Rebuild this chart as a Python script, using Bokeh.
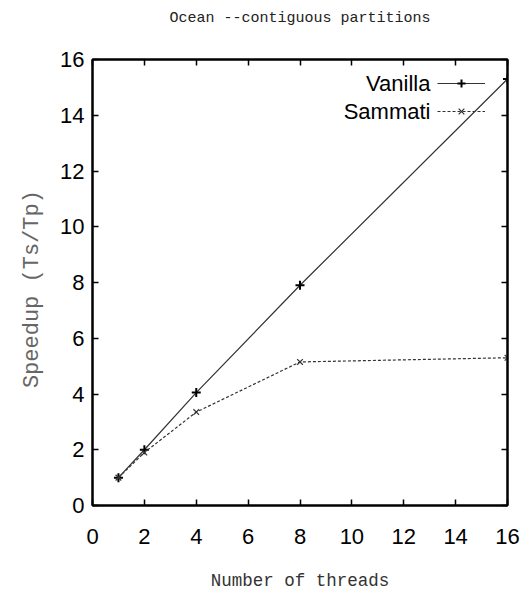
from bokeh.plotting import figure
from bokeh.models import Legend, LegendItem, LinearAxis, FixedTicker, Label, Range1d
from bokeh.embed import file_html
from bokeh.resources import INLINE

threads = [1, 2, 4, 8, 16]
vanilla = [1.0, 2.0, 4.05, 7.9, 15.3]
sammati = [1.0, 1.9, 3.35, 5.15, 5.3]
ticks = [0, 2, 4, 6, 8, 10, 12, 14, 16]
title_text = "Ocean --contiguous partitions"

MONO = "Liberation Mono"
SANS = "Liberation Sans"

p = figure(width=529, height=593, output_backend="svg", toolbar_location=None,
           x_range=Range1d(0, 16), y_range=Range1d(0, 16),
           min_border_left=92, min_border_right=22, min_border_top=59, min_border_bottom=88)

p.grid.visible = False
p.outline_line_color = "black"
p.outline_line_width = 2
p.background_fill_color = "white"
p.border_fill_color = "white"

def style_axis(ax, labels=True):
    ax.ticker = FixedTicker(ticks=ticks)
    ax.minor_tick_line_color = None
    ax.major_tick_in = 6
    ax.major_tick_out = 0
    ax.major_tick_line_width = 1.5
    ax.major_tick_line_color = "black"
    ax.axis_line_color = "black"
    ax.axis_line_width = 2
    if labels:
        ax.major_label_text_font = SANS
        ax.major_label_text_font_size = "22px"
        ax.major_label_text_color = "black"
    else:
        ax.major_label_text_font_size = "0px"
        ax.major_label_text_alpha = 0
        ax.major_label_standoff = 0

for ax in p.xaxis + p.yaxis:
    style_axis(ax)

p.xaxis.major_label_standoff = 23
p.yaxis.major_label_standoff = 8
p.xaxis.axis_label = "Number of threads"
p.yaxis.axis_label = "Speedup  (Ts/Tp)"
for ax in p.xaxis + p.yaxis:
    ax.axis_label_text_font = MONO
    ax.axis_label_text_font_size = "17.5px"
    ax.axis_label_text_font_style = "normal"
    ax.axis_label_text_color = "#333333"
p.yaxis.axis_label_text_font_size = "22px"
p.yaxis.axis_label_text_color = "#666666"
p.xaxis.axis_label_standoff = 24
p.yaxis.axis_label_standoff = 12

# top axis carries the chart title (centered above the frame)
top_ax = LinearAxis(axis_label=title_text)
right_ax = LinearAxis()
style_axis(top_ax, labels=False)
style_axis(right_ax, labels=False)
top_ax.axis_label_text_font = MONO
top_ax.axis_label_text_font_size = "15px"
top_ax.axis_label_text_font_style = "normal"
top_ax.axis_label_text_color = "#222222"
top_ax.axis_label_standoff = 33
p.add_layout(top_ax, "above")
p.add_layout(right_ax, "right")

lv = p.line(threads, vanilla, line_color="#333333", line_width=1.2)
mv = p.scatter(threads, vanilla, marker="cross", size=9, line_color="black", line_width=2)
ls = p.line(threads, sammati, line_color="#333333", line_width=1.2, line_dash="3 2")
ms = p.scatter(threads, sammati, marker="x", size=8, line_color="#333333", line_width=1.2)

legend = Legend(items=[LegendItem(label=" ", renderers=[lv, mv]),
                       LegendItem(label=" ", renderers=[ls, ms])],
                location=(345, 384), border_line_color=None,
                background_fill_alpha=0, glyph_width=48, glyph_height=20,
                label_width=0, label_standoff=0, spacing=8, margin=0,
                padding=4, label_text_font_size="1px")
p.add_layout(legend)

for txt, yv in [("Vanilla", 15.14), ("Sammati", 14.13)]:
    p.add_layout(Label(x=13.03, y=yv, text=txt,
                       text_font=SANS, text_font_size="22px", text_align="right",
                       text_baseline="middle", text_color="black"))

open("out.html", "w").write(file_html(p, INLINE))
